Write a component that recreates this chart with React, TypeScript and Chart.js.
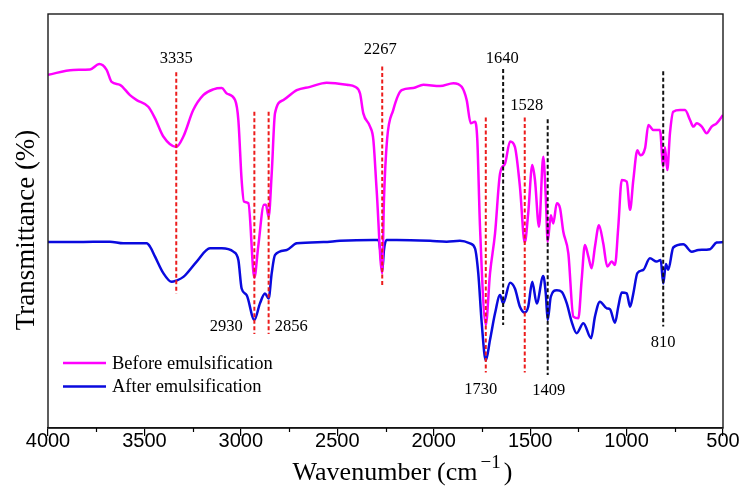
import React, { useEffect, useRef } from 'react';
import { Chart, registerables } from 'chart.js';

Chart.register(...registerables);

// ---------- data ----------
const seriesLabels = ['Before emulsification', 'After emulsification'];

const beforeWn = [4000, 3869, 3782, 3734, 3696, 3670, 3627, 3575, 3540, 3480, 3445, 3402, 3335, 3298, 3247, 3195, 3143, 3099, 3073, 3030, 3013, 2996, 2984, 2961, 2930, 2910, 2880, 2870, 2856, 2840, 2823, 2780, 2710, 2641, 2555, 2451, 2408, 2382, 2365, 2330, 2313, 2296, 2267, 2258, 2242, 2210, 2166, 2106, 2054, 1967, 1898, 1855, 1829, 1808, 1786, 1774, 1760, 1730, 1708, 1682, 1656, 1630, 1604, 1579, 1553, 1528, 1510, 1489, 1475, 1454, 1432, 1419, 1409, 1393, 1380, 1362, 1345, 1328, 1302, 1276, 1250, 1233, 1216, 1198, 1181, 1164, 1143, 1121, 1100, 1077, 1060, 1043, 1025, 999, 982, 965, 944, 930, 904, 887, 861, 827, 810, 801, 789, 775, 758, 723, 697, 671, 654, 636, 610, 585, 559, 533, 500];
const beforeT = [85.3, 86.5, 86.6, 87.9, 86.5, 83.6, 82.9, 80.4, 79.2, 77.6, 74.8, 70.4, 67.9, 70.4, 76.8, 80.4, 81.8, 82.1, 80.8, 79.2, 74.4, 59.9, 54.7, 54.3, 36.3, 43.8, 53.9, 53.9, 51.0, 61.5, 76.0, 79.2, 81.6, 82.4, 83.4, 82.9, 82.4, 80.8, 76.0, 72.8, 69.6, 57.5, 37.4, 55.1, 69.6, 76.8, 81.6, 82.1, 82.9, 82.6, 83.3, 82.4, 79.2, 73.6, 74.0, 69.6, 48.6, 24.9, 37.4, 47.0, 61.5, 63.9, 69.2, 67.9, 58.3, 44.8, 51.9, 63.5, 59.9, 48.6, 65.5, 55.9, 45.0, 51.4, 49.4, 54.3, 53.1, 47.4, 42.2, 26.9, 26.5, 35.7, 44.2, 41.4, 38.6, 43.8, 49.0, 44.6, 39.0, 40.2, 39.4, 48.6, 59.9, 59.5, 52.7, 59.9, 67.1, 65.9, 67.6, 73.2, 72.0, 72.0, 63.1, 67.8, 62.3, 71.2, 76.4, 76.8, 76.8, 74.4, 72.8, 73.6, 72.8, 71.2, 72.8, 73.6, 75.6];

const afterWn = [4000, 3869, 3765, 3679, 3610, 3488, 3471, 3445, 3402, 3359, 3335, 3298, 3229, 3160, 3099, 3039, 3013, 2996, 2970, 2930, 2901, 2875, 2856, 2840, 2823, 2762, 2710, 2572, 2486, 2313, 2287, 2276, 2267, 2258, 2245, 2192, 2019, 1933, 1864, 1812, 1786, 1769, 1751, 1730, 1708, 1682, 1656, 1640, 1604, 1579, 1553, 1528, 1510, 1489, 1466, 1432, 1419, 1409, 1393, 1362, 1336, 1310, 1285, 1259, 1224, 1184, 1164, 1138, 1103, 1086, 1060, 1043, 1025, 999, 982, 965, 944, 913, 879, 844, 823, 810, 796, 784, 758, 706, 662, 628, 567, 533, 500];
const afterT = [44.9, 44.9, 45.0, 45.0, 44.6, 44.6, 43.8, 41.4, 37.4, 35.3, 35.6, 36.5, 40.2, 43.4, 43.4, 42.6, 40.6, 33.7, 32.1, 26.1, 30.1, 32.5, 31.3, 37.4, 41.8, 43.0, 44.6, 44.9, 45.2, 45.4, 45.4, 42.5, 37.9, 43.0, 45.4, 45.4, 45.2, 45.0, 45.2, 44.6, 43.4, 37.4, 25.3, 16.3, 21.3, 27.7, 32.1, 30.1, 35.1, 33.7, 29.3, 27.9, 29.3, 35.3, 30.1, 36.7, 32.5, 26.1, 31.7, 33.3, 32.9, 30.1, 25.7, 22.9, 25.3, 21.7, 26.9, 30.5, 28.9, 28.7, 25.4, 29.3, 32.7, 32.5, 29.3, 32.5, 37.4, 38.2, 41.0, 40.2, 40.6, 34.9, 39.6, 38.2, 43.6, 44.4, 42.6, 43.0, 43.2, 44.8, 44.9];

const xTicks = [4000, 3500, 3000, 2500, 2000, 1500, 1000, 500];
const xMinorTicks = [3750, 3250, 2750, 2250, 1750, 1250, 750];

// band markers (wavenumber, label, vertical extent in transmittance units, group)
const markerWn = [3335, 2930, 2856, 2267, 1730, 1528, 1640, 1409, 810];
const markerLabel = ['3335', '2930', '2856', '2267', '1730', '1528', '1640', '1409', '810'];
const markerTop = [85.9, 76.4, 76.4, 87.3, 75.0, 75.0, 86.7, 74.6, 86.2];
const markerBottom = [32.5, 22.7, 22.7, 34.1, 13.4, 13.4, 24.9, 12.8, 24.5];
const markerGroup = ['red', 'red', 'red', 'red', 'red', 'red', 'black', 'black', 'black'];

// ---------- layout / style (not data) ----------
const SERIF = '"Liberation Serif", "Times New Roman", Times, serif';
const SANS = '"Liberation Sans", Arial, Helvetica, sans-serif';
const COLORS = ['#ff00ff', '#0a0ade'];
const MARKER_COLORS: Record<string, string> = { red: '#ec1c1c', black: '#111111' };
// label placement: which end of the dashed line, and pixel offset of label centre
const LABEL_LAYOUT: Array<[string, number, number]> = [
  ['top', 0, -14],
  ['bottom', -28, -7],
  ['bottom', 22.5, -7],
  ['top', -2, -16.5],
  ['bottom', -5, 17],
  ['top', 2, -11.5],
  ['top', -1, -10.5],
  ['bottom', 1, 16],
  ['bottom', 0, 16.5],
];

const decorPlugin = {
  id: 'decor',
  afterDraw(chart: any) {
    const { ctx, chartArea: a, scales } = chart;
    const xs = scales.x;
    const ys = scales.y;
    ctx.save();

    // frame
    ctx.strokeStyle = '#1a1a1a';
    ctx.lineWidth = 1.4;
    ctx.strokeRect(a.left, a.top, a.right - a.left, a.bottom - a.top);

    // minor ticks
    ctx.lineWidth = 1.2;
    ctx.strokeStyle = '#000';
    xMinorTicks.forEach((v) => {
      const x = Math.round(xs.getPixelForValue(v)) + 0.5;
      ctx.beginPath();
      ctx.moveTo(x, a.bottom);
      ctx.lineTo(x, a.bottom + 4);
      ctx.stroke();
    });

    // marker labels
    ctx.fillStyle = '#000';
    ctx.font = `16.5px ${SERIF}`;
    ctx.textAlign = 'center';
    ctx.textBaseline = 'middle';
    markerWn.forEach((w, i) => {
      const [end, dx, dy] = LABEL_LAYOUT[i];
      const x = xs.getPixelForValue(w);
      const y = ys.getPixelForValue(end === 'top' ? markerTop[i] : markerBottom[i]);
      ctx.fillText(markerLabel[i], x + dx, y + dy);
    });

    // legend (inside plot, lower left)
    ctx.textAlign = 'left';
    ctx.font = `18.5px ${SERIF}`;
    seriesLabels.forEach((lab, i) => {
      const y = a.bottom - 65 + i * 23.5;
      ctx.strokeStyle = COLORS[i];
      ctx.lineWidth = 2.5;
      ctx.beginPath();
      ctx.moveTo(a.left + 15, y);
      ctx.lineTo(a.left + 58, y);
      ctx.stroke();
      ctx.fillStyle = '#000';
      ctx.fillText(lab, a.left + 64, y + 1);
    });

    // x title with superscript
    ctx.textBaseline = 'alphabetic';
    const main = 'Wavenumber (cm';
    const sup = '\u22121';
    const close = ')';
    ctx.font = `26px ${SERIF}`;
    const w1 = ctx.measureText(main).width;
    const w3 = ctx.measureText(close).width;
    ctx.font = `19px ${SERIF}`;
    const w2 = ctx.measureText(sup).width;
    const gap = 3;
    const total = w1 + gap + w2 + gap + w3;
    const cx = (a.left + a.right) / 2 + 17;
    let x0 = cx - total / 2;
    const base = 480;
    ctx.font = `26px ${SERIF}`;
    ctx.fillText(main, x0, base);
    x0 += w1 + gap;
    ctx.font = `19px ${SERIF}`;
    ctx.fillText(sup, x0, base - 12);
    x0 += w2 + gap;
    ctx.font = `26px ${SERIF}`;
    ctx.fillText(close, x0, base);

    // y title
    ctx.save();
    ctx.translate(34, (a.top + a.bottom) / 2 + 9);
    ctx.rotate(-Math.PI / 2);
    ctx.textAlign = 'center';
    ctx.font = `27px ${SERIF}`;
    ctx.fillText('Transmittance (%)', 0, 0);
    ctx.restore();

    ctx.restore();
  },
};

export default function App() {
  const ref = useRef<HTMLCanvasElement | null>(null);

  useEffect(() => {
    if (!ref.current) return;
    const spectra = [
      { label: seriesLabels[0], data: beforeWn.map((w, i) => ({ x: w, y: beforeT[i] })), borderColor: COLORS[0] },
      { label: seriesLabels[1], data: afterWn.map((w, i) => ({ x: w, y: afterT[i] })), borderColor: COLORS[1] },
    ].map((d) => ({
      ...d,
      borderWidth: 2.5,
      pointRadius: 0,
      fill: false,
      cubicInterpolationMode: 'monotone' as const,
    }));
    const markers = markerWn.map((w, i) => ({
      label: 'marker ' + markerLabel[i],
      data: [
        { x: w, y: markerTop[i] },
        { x: w, y: markerBottom[i] },
      ],
      borderColor: MARKER_COLORS[markerGroup[i]],
      borderWidth: 2,
      borderDash: [4, 2.5],
      pointRadius: 0,
      fill: false,
    }));

    const chart = new Chart(ref.current, {
      type: 'line',
      data: { datasets: [...markers, ...spectra] as any },
      options: {
        animation: false,
        responsive: false,
        devicePixelRatio: 1,
        parsing: false as any,
        layout: { padding: { left: 48, right: 20, top: 14, bottom: 0 } },
        plugins: { legend: { display: false }, tooltip: { enabled: false } },
        scales: {
          x: {
            type: 'linear',
            reverse: true,
            min: 500,
            max: 4000,
            afterBuildTicks: (s: any) => {
              s.ticks = xTicks.map((v) => ({ value: v }));
            },
            afterFit: (s: any) => {
              s.height = 59;
            },
            ticks: {
              color: '#000',
              font: { family: SANS, size: 20, lineHeight: 1 },
              padding: -5,
              maxRotation: 0,
              autoSkip: false,
              callback: (v: any) => String(v),
            },
            grid: {
              display: true,
              drawOnChartArea: false,
              drawTicks: true,
              tickLength: 8,
              color: '#000',
              lineWidth: 1.2,
            },
            border: { display: true, color: '#000', width: 1.4 },
          },
          y: {
            type: 'linear',
            display: false,
            min: 0,
            max: 100,
          },
        },
      },
      plugins: [decorPlugin],
    });
    return () => chart.destroy();
  }, []);

  return (
    <div style={{ position: 'absolute', left: 0, top: 0, width: 743, height: 487, background: '#fff' }}>
      <canvas ref={ref} width={743} height={487} style={{ display: 'block', width: 743, height: 487 }} />
    </div>
  );
}
